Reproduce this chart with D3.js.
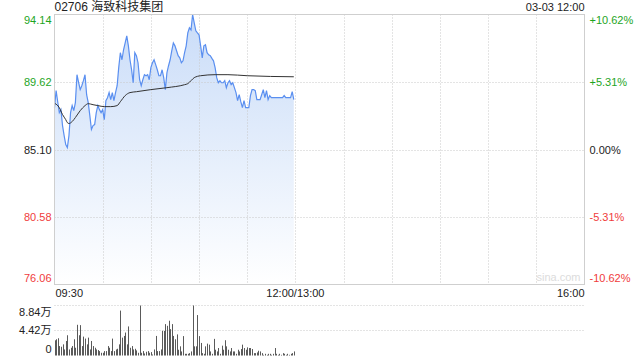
<!DOCTYPE html>
<html>
<head>
<meta charset="utf-8">
<script src="https://cdn.jsdelivr.net/npm/d3@7"></script>
<style>
  html, body { margin: 0; padding: 0; background: #fff; }
  svg { display: block; }
</style>
</head>
<body>
<div id="chart"></div>
<script>
const title = "02706 海致科技集团";
const stamp = "03-03 12:00";
const prevClose = 85.10;

// minute-by-minute price, 09:30 -> 12:00
const prices = [
  87.90, 89.05, 88.30, 87.57, 87.77, 86.70, 86.03, 85.43, 85.23, 86.03,
  87.57, 88.04, 87.70, 88.24, 90.11, 89.60, 89.11, 89.37, 89.71, 90.11,
  88.77, 88.24, 87.37, 86.44, 86.70, 86.77, 87.57, 88.04, 87.77, 87.57,
  87.77, 87.10, 88.37, 88.57, 88.91, 88.44, 88.91, 88.37, 88.91, 89.37,
  90.60, 91.58, 91.11, 91.78, 92.24, 92.71, 92.04, 91.11, 90.44, 89.57,
  91.58, 91.38, 90.91, 89.77, 89.37, 89.77, 90.11, 90.04, 90.11, 89.77,
  90.58, 90.91, 91.11, 90.78, 90.44, 90.04, 90.04, 90.44, 89.91, 89.11,
  90.24, 90.71, 91.11, 91.71, 92.24, 92.04, 91.71, 91.38, 91.24, 90.91,
  91.04, 91.58, 92.04, 92.91, 93.25, 93.11, 94.14, 93.58, 93.05, 92.91,
  92.78, 92.04, 91.24, 92.04, 92.11, 91.58, 91.44, 91.38, 91.20, 91.04,
  90.58, 89.91, 89.57, 89.71, 89.57, 89.57, 89.71, 89.24, 89.57, 89.71,
  89.44, 89.57, 89.24, 88.91, 88.37, 88.77, 88.30, 87.90, 88.37, 87.90,
  87.90, 87.90, 88.71, 89.11, 89.11, 89.04, 88.44, 88.44, 88.44, 88.77,
  89.11, 88.57, 89.04, 88.44, 88.71, 88.57, 88.57, 88.57, 88.57, 88.57,
  88.57, 88.57, 88.57, 88.71, 88.57, 88.57, 88.57, 88.57, 88.97, 88.44
];

// average price line, [minute, price]
const avgPoints = [
  [0, 88.20], [3, 87.90], [5, 87.44], [7, 87.10], [8, 86.90], [9, 86.84],
  [11, 86.97], [13, 87.24], [16, 87.70], [19, 88.04], [21, 88.17], [24, 88.10],
  [27, 88.04], [31, 87.97], [35, 87.97], [39, 88.04], [41, 88.30], [44, 88.71],
  [47, 88.91], [51, 88.97], [60, 89.11], [70, 89.24], [81, 89.44], [83, 89.51],
  [85, 89.71], [87, 89.91], [91, 90.04], [100, 90.11], [108, 90.11], [120, 90.04],
  [149, 89.97]
];

// volume per minute, in 万
const volumes = [
  2.69, 2.87, 3.05, 1.67, 1.55, 1.97, 1.07, 2.57, 3.58, 1.07,
  1.37, 1.67, 2.87, 1.37, 5.43, 3.58, 5.37, 1.67, 3.34, 2.99,
  1.97, 3.16, 1.07, 2.57, 1.67, 1.37, 1.07, 0.96, 0.78, 0.48,
  0.48, 0.78, 0.78, 1.67, 1.37, 0.78, 2.99, 0.78, 1.07, 1.19,
  1.97, 7.94, 3.16, 3.46, 4.06, 1.97, 5.14, 1.37, 1.67, 1.07,
  1.19, 0.90, 0.48, 8.84, 0.48, 0.78, 0.36, 0.66, 0.78, 0.48,
  0.60, 0.18, 1.07, 3.46, 0.78, 0.78, 1.07, 4.36, 4.36, 5.55,
  5.25, 6.15, 4.66, 5.55, 3.46, 2.87,
  3.73, 1.02, 1.62, 0.72, 3.43, 0.30, 0.30, 0.30, 0.42, 0.72,
  8.84, 1.62, 1.62, 7.15, 3.43, 2.22, 0.42, 0.30, 1.62, 2.10,
  1.92, 0.72, 0.30, 2.94, 1.02, 0.72, 1.32, 0.30, 1.74, 1.02,
  2.70, 1.62, 1.02, 0.72, 1.32, 0.72, 0.72, 0.30, 1.02, 0.72,
  1.14, 1.92, 1.32, 1.02, 1.44, 1.32, 1.32, 1.14, 0.42, 0.42,
  0.54, 0.84, 0.72, 0.42, 0.12, 0.30, 0.12, 0.30, 0.30, 0.12,
  0.30, 1.32, 0.30, 0.12, 0.30, 0.12, 0.42, 0.30, 0.12, 0.30,
  0.12, 0.30, 0.42, 0.72
];

const priceTicks = [94.14, 89.62, 85.10, 80.58, 76.06];
const pctTicks = ["+10.62%", "+5.31%", "0.00%", "-5.31%", "-10.62%"];
const volTicks = [8.84, 4.42, 0];
const timeLabels = ["09:30", "12:00/13:00", "16:00"];
const timeLabelMinutes = [0, 150, 330];

const width = 640, height = 360;
const box = { left: 54.5, right: 584.5, top: 14.5, bottom: 284.5, volTop: 305.5, volBottom: 355.5 };
const font = "Arial, 'Liberation Sans', 'Noto Sans CJK SC', sans-serif";
const green = "#1ea51e", red = "#f03c3c", gridColor = "#c8c8c8";

const svg = d3.select("#chart").append("svg")
  .attr("width", width)
  .attr("height", height)
  .style("font-family", font);

const x = d3.scaleLinear().domain([0, 330]).range([box.left, box.right]);
const y = d3.scaleLinear().domain([76.06, 94.14]).range([box.bottom, box.top]);
const yv = d3.scaleLinear().domain([0, 8.84]).range([box.volBottom, box.volTop]);

// gradient for area
const grad = svg.append("defs").append("linearGradient")
  .attr("id", "fill")
  .attr("gradientUnits", "userSpaceOnUse")
  .attr("x1", 0).attr("x2", 0)
  .attr("y1", box.top).attr("y2", box.bottom);
grad.append("stop").attr("offset", "0%").attr("stop-color", "#c9dcf8");
grad.append("stop").attr("offset", "100%").attr("stop-color", "#ffffff");

// watermark
svg.append("text")
  .attr("x", box.right - 4).attr("y", box.bottom - 4)
  .attr("text-anchor", "end")
  .style("font-size", "11px")
  .style("fill", "#dcdcdc")
  .text("sina.com");

// price area
const pts = prices.map((p, i) => [i, p]);
svg.append("path")
  .datum(pts)
  .attr("fill", "url(#fill)")
  .attr("d", d3.area().x(d => x(d[0])).y0(box.bottom).y1(d => y(d[1])));

// grid
const gridG = svg.append("g")
  .attr("stroke", gridColor)
  .attr("stroke-dasharray", "1,2")
  .attr("fill", "none");
d3.range(30, 330, 30).forEach(m => {
  gridG.append("line")
    .attr("x1", Math.round(x(m)) + 0.5).attr("x2", Math.round(x(m)) + 0.5)
    .attr("y1", box.top).attr("y2", box.bottom);
});
[89.62, 85.10, 80.58].forEach(v => {
  gridG.append("line")
    .attr("x1", box.left).attr("x2", box.right)
    .attr("y1", Math.round(y(v)) + 0.5).attr("y2", Math.round(y(v)) + 0.5);
});
volTicks.slice(0, 2).forEach(v => {
  gridG.append("line")
    .attr("x1", box.left).attr("x2", box.right)
    .attr("y1", yv(v)).attr("y2", yv(v));
});

// price + average lines
svg.append("path")
  .datum(pts)
  .attr("fill", "none")
  .attr("stroke", "#5a8ff0")
  .attr("stroke-width", 1.2)
  .attr("d", d3.line().x(d => x(d[0])).y(d => y(d[1])));

svg.append("path")
  .datum(avgPoints)
  .attr("fill", "none")
  .attr("stroke", "#333")
  .attr("stroke-width", 1)
  .attr("d", d3.line().curve(d3.curveMonotoneX).x(d => x(d[0])).y(d => y(d[1])));

// frame
svg.append("rect")
  .attr("x", box.left).attr("y", box.top)
  .attr("width", box.right - box.left).attr("height", box.bottom - box.top)
  .attr("fill", "none")
  .attr("stroke", "#cfcfcf");

// volume bars
svg.append("g")
  .selectAll("rect")
  .data(volumes)
  .join("rect")
  .attr("x", (d, i) => Math.round(x(i)))
  .attr("y", d => yv(d))
  .attr("width", 1)
  .attr("height", d => box.volBottom - yv(d))
  .attr("fill", "#5a5a5a");

// title and stamp
svg.append("text")
  .attr("x", box.left).attr("y", 11)
  .style("font-size", "12px").style("fill", "#222")
  .text(title);
svg.append("text")
  .attr("x", box.right).attr("y", 11)
  .attr("text-anchor", "end")
  .style("font-size", "11px").style("fill", "#222")
  .text(stamp);

// price labels left / pct labels right
const labelY = (v, i) => {
  const yy = y(v);
  if (i === 0) return yy + 9;
  if (i === priceTicks.length - 1) return yy - 3;
  return yy + 4;
};
const tickColor = v => v > prevClose + 0.001 ? green : (v < prevClose - 0.001 ? red : "#222");

svg.append("g")
  .selectAll("text")
  .data(priceTicks)
  .join("text")
  .attr("x", box.left - 3)
  .attr("y", (d, i) => labelY(d, i))
  .attr("text-anchor", "end")
  .style("font-size", "11px")
  .style("fill", d => tickColor(d))
  .text(d => d.toFixed(2));

svg.append("g")
  .selectAll("text")
  .data(pctTicks)
  .join("text")
  .attr("x", box.right + 5)
  .attr("y", (d, i) => labelY(priceTicks[i], i))
  .style("font-size", "11px")
  .style("fill", (d, i) => tickColor(priceTicks[i]))
  .text(d => d);

// time labels
svg.append("g")
  .selectAll("text")
  .data(timeLabels)
  .join("text")
  .attr("x", (d, i) => x(timeLabelMinutes[i]) + (i === 0 ? 1 : 0))
  .attr("y", 297)
  .attr("text-anchor", (d, i) => i === 0 ? "start" : (i === 1 ? "middle" : "end"))
  .style("font-size", "11px")
  .style("fill", "#222")
  .text(d => d);

// volume labels
svg.append("g")
  .selectAll("text")
  .data(volTicks)
  .join("text")
  .attr("x", box.left - 3)
  .attr("y", (d, i) => i === 0 ? yv(d) + 10 : (i === 1 ? yv(d) + 3 : yv(d) - 3))
  .attr("text-anchor", "end")
  .style("font-size", "11px")
  .style("fill", "#222")
  .text(d => d === 0 ? "0" : d.toFixed(2) + "万");
</script>
</body>
</html>
